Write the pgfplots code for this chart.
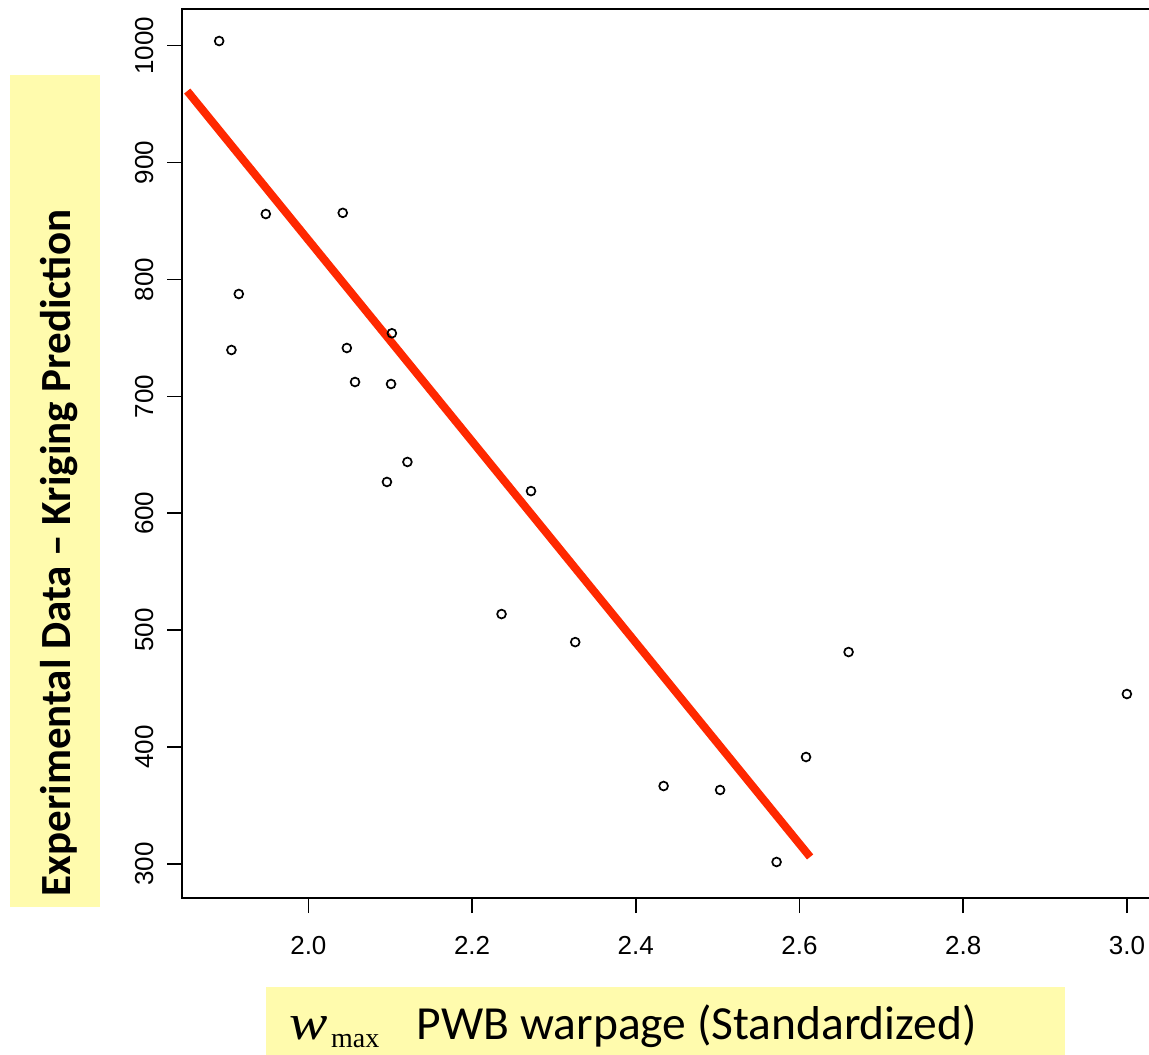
\documentclass[border=0pt]{standalone}
\usepackage{pgfplots}
\pgfplotsset{compat=1.18}
\usepackage{fontspec}
\setmainfont{Liberation Sans}
\newfontfamily\calibri{Carlito}
\newfontfamily\tnr{Liberation Serif}
\definecolor{labyellow}{RGB}{255,251,173}
\definecolor{fitred}{RGB}{255,40,0}
\begin{document}
\begin{tikzpicture}[x=1pt,y=1pt]
\path[use as bounding box] (0,0) rectangle (1149,1055);
% label boxes
\fill[labyellow] (10,148) rectangle (100,980);
\fill[labyellow] (266,0) rectangle (1065,68);
\node[rotate=90, anchor=base, inner sep=0pt, font=\calibri\bfseries\fontsize{43}{50}\selectfont] at (70,502) {Experimental Data – Kriging Prediction};
\node[anchor=base west, inner sep=0pt, font=\calibri\fontsize{47.5}{52}\selectfont] at (416.7,15.7) {PWB warpage (Standardized)};
\node[anchor=base west, inner sep=0pt, font=\tnr\itshape\fontsize{50}{60}\selectfont] at (289,15.7) {\scalebox{1.15}[1]{w}};
\node[anchor=base west, inner sep=0pt, font=\tnr\fontsize{28}{34}\selectfont] at (331,7) {max};
\begin{axis}[
  at={(182pt,157pt)}, anchor=south west,
  scale only axis, width=980.9pt, height=889pt,
  xmin=1.8456, xmax=3.044, ymin=270.9, ymax=1031.4,
  xtick={2.0,2.2,2.4,2.6,2.8,3.0},
  ytick={300,400,500,600,700,800,900,1000},
  xtick pos=left, ytick pos=left,
  tick align=outside, major tick length=15pt,
  axis line style={line width=1.8pt},
  every tick/.style={black, line width=1.6pt},
  tick label style={font=\fontsize{26}{30}\selectfont},
  /pgf/number format/assume math mode=true,
  x tick label style={/pgf/number format/fixed, /pgf/number format/fixed zerofill, /pgf/number format/precision=1, yshift=-20pt},
  y tick label style={rotate=90, anchor=south, /pgf/number format/1000 sep={}, yshift=10pt},
]
\addplot[only marks, mark=o, mark size=4.4pt, mark options={line width=1.7pt, black}] coordinates {
(1.891,1004) (1.948,856) (2.042,857) (1.915,787.6) (1.906,739.7)
(2.102,754) (2.047,741.4) (2.057,712.3) (2.101,710.6) (2.121,643.9)
(2.096,626.8) (2.272,619) (2.236,513.8) (2.326,489.8) (2.660,481.3)
(3.000,445.4) (2.608,391.5) (2.434,366.7) (2.503,363.3) (2.572,301.7)
};
\addplot[fitred, line width=8pt] coordinates {(1.852,961.2) (2.613,306.0)};
\end{axis}
\end{tikzpicture}
\end{document}
